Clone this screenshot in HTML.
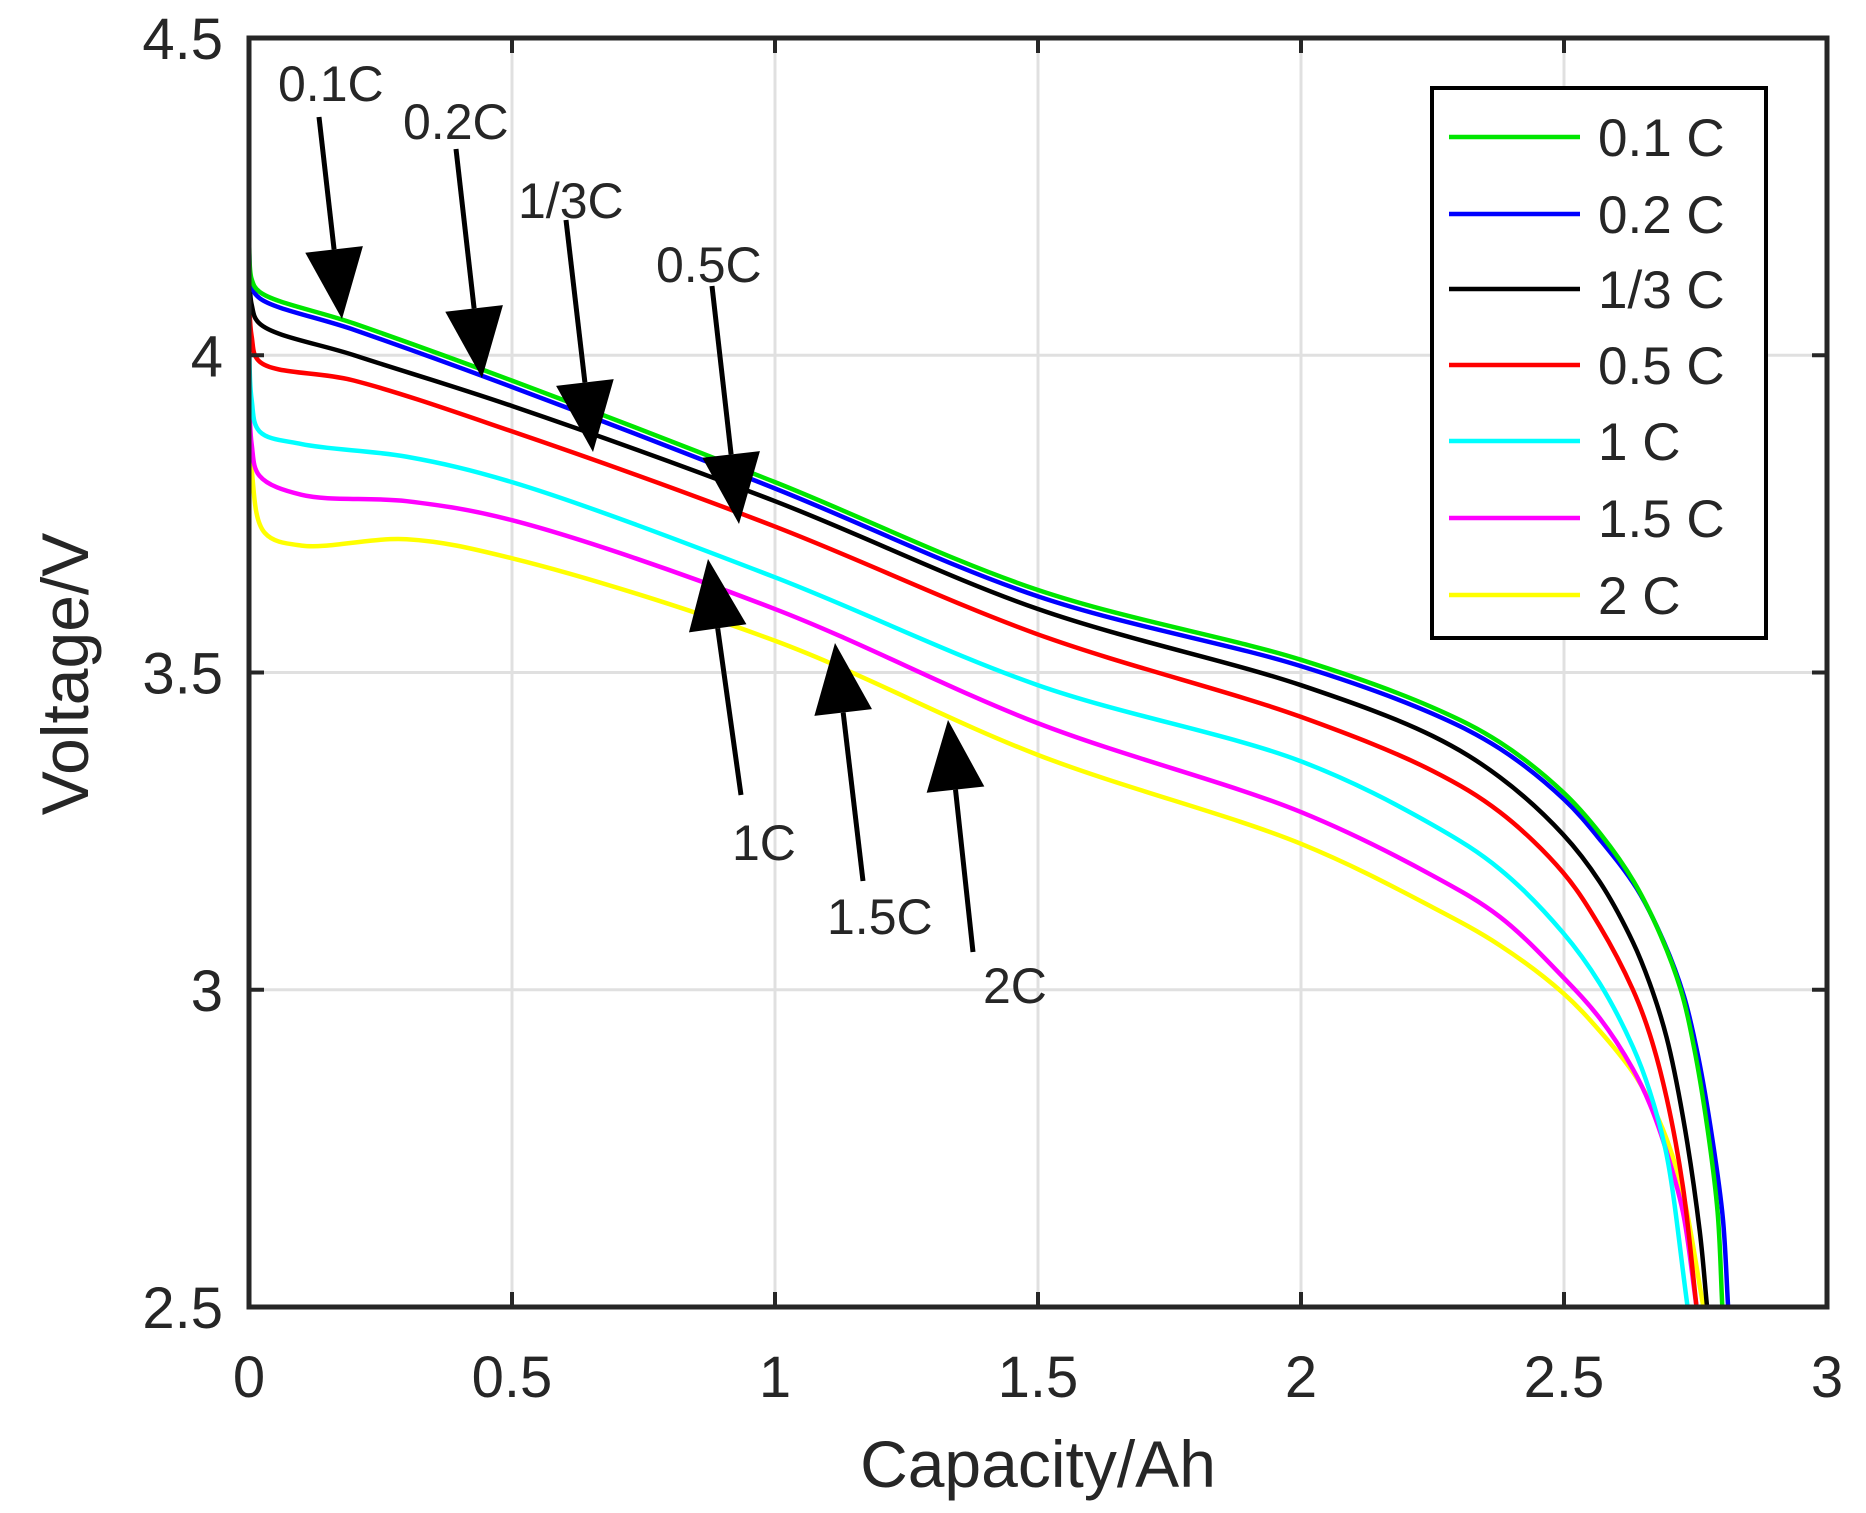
<!DOCTYPE html>
<html><head><meta charset="utf-8"><style>
html,body{margin:0;padding:0;background:#fff;}
svg{display:block;}
text{font-family:"Liberation Sans",Arial,sans-serif;fill:#262626;}
</style></head><body>
<svg id="chart" width="1866" height="1513" viewBox="0 0 1866 1513" xmlns="http://www.w3.org/2000/svg">
<g id="grid"></g>
<g id="series"></g>
<g id="axes"></g>
<g id="annot"></g>
<g id="legend"></g>
</svg>
<script>
const xTicks = [0, 0.5, 1, 1.5, 2, 2.5, 3];
const xTickLabels = ["0", "0.5", "1", "1.5", "2", "2.5", "3"];
const yTicks = [2.5, 3, 3.5, 4, 4.5];
const yTickLabels = ["2.5", "3", "3.5", "4", "4.5"];
const seriesNames = ["0.1 C", "0.2 C", "1/3 C", "0.5 C", "1 C", "1.5 C", "2 C"];
const seriesColors = ["#00e600", "#0000ff", "#000000", "#ff0000", "#00ffff", "#ff00ff", "#ffff00"];
const capX = [
 [0,0.005,0.02,0.2,0.5,1,1.5,2,2.25,2.378,2.5,2.57,2.633,2.684,2.722,2.747,2.773,2.792,2.801],
 [0,0.005,0.02,0.2,0.5,1,1.5,2,2.25,2.378,2.5,2.57,2.638,2.69,2.728,2.755,2.782,2.802,2.812],
 [0,0.005,0.02,0.2,0.5,1,1.5,2,2.25,2.378,2.498,2.568,2.631,2.663,2.695,2.726,2.758,2.772],
 [0,0.005,0.02,0.2,0.5,1,1.5,2,2.25,2.378,2.498,2.568,2.631,2.663,2.695,2.726,2.752],
 [0,0.005,0.02,0.1,0.3,0.5,1,1.5,2,2.25,2.378,2.498,2.568,2.631,2.663,2.695,2.735],
 [0,0.005,0.02,0.1,0.3,0.5,1,1.5,2,2.25,2.378,2.498,2.568,2.631,2.663,2.695,2.726,2.752],
 [0,0.005,0.03,0.1,0.3,0.5,1,1.5,2,2.25,2.378,2.498,2.568,2.631,2.663,2.695,2.726,2.765]
];
const voltY = [
 [4.18,4.12,4.1,4.05,3.96,3.80,3.63,3.52,3.445,3.39,3.31,3.245,3.17,3.085,3.0,2.91,2.78,2.65,2.5],
 [4.17,4.11,4.09,4.04,3.95,3.79,3.62,3.51,3.435,3.38,3.30,3.235,3.16,3.075,2.99,2.895,2.765,2.64,2.5],
 [4.14,4.08,4.05,4.0,3.92,3.77,3.60,3.48,3.40,3.335,3.245,3.17,3.075,3.01,2.925,2.80,2.62,2.5],
 [4.16,4.03,3.99,3.96,3.88,3.73,3.56,3.43,3.345,3.28,3.185,3.10,3.0,2.93,2.83,2.69,2.5],
 [4.08,3.93,3.88,3.86,3.84,3.80,3.65,3.48,3.36,3.26,3.19,3.09,3.01,2.91,2.84,2.74,2.5],
 [4.0,3.86,3.81,3.78,3.77,3.74,3.60,3.42,3.28,3.18,3.115,3.02,2.955,2.875,2.82,2.745,2.65,2.5],
 [3.95,3.82,3.72,3.70,3.71,3.68,3.55,3.37,3.23,3.13,3.07,2.995,2.935,2.87,2.825,2.765,2.68,2.5]
];
const annLabels = ["0.1C","0.2C","1/3C","0.5C","1C","1.5C","2C"];

const L=249,R=1827,T=38,B=1307;
const sx=v=>L+(v-0)/(3-0)*(R-L);
const sy=v=>B-(v-2.5)/(4.5-2.5)*(B-T);
const NS="http://www.w3.org/2000/svg";
function mk(tag,attrs,parent){const e=document.createElementNS(NS,tag);for(const k in attrs)e.setAttribute(k,attrs[k]);parent.appendChild(e);return e;}
const grid=document.getElementById('grid'),axes=document.getElementById('axes'),ser=document.getElementById('series'),ann=document.getElementById('annot'),leg=document.getElementById('legend');

xTicks.forEach((t,i)=>{
 const x=sx(t);
 if(i>0&&i<xTicks.length-1){const g=mk('line',{x1:x,y1:T,x2:x,y2:B,stroke:'#e0e0e0','stroke-width':3},grid);
 
 }
 const tk=mk('line',{x1:x,y1:B,x2:x,y2:B-15,stroke:'#262626','stroke-width':4},axes);
 
 
 const tt=mk('line',{x1:x,y1:T,x2:x,y2:T+15,stroke:'#262626','stroke-width':4},axes);
 
 
 const lb=mk('text',{x:x,y:B+90,'font-size':58,'text-anchor':'middle'},axes);lb.textContent=xTickLabels[i];
 
 
});
yTicks.forEach((t,i)=>{
 const y=sy(t);
 if(i>0&&i<yTicks.length-1){const g=mk('line',{x1:L,y1:y,x2:R,y2:y,stroke:'#e0e0e0','stroke-width':3},grid);
 
 }
 const tk=mk('line',{x1:L,y1:y,x2:L+15,y2:y,stroke:'#262626','stroke-width':4},axes);
 
 
 const tr=mk('line',{x1:R,y1:y,x2:R-15,y2:y,stroke:'#262626','stroke-width':4},axes);
 
 
 const lb=mk('text',{x:L-26,y:y+21,'font-size':58,'text-anchor':'end'},axes);lb.textContent=yTickLabels[i];
 
 
});
const frame=mk('rect',{x:L,y:T,width:R-L,height:B-T,fill:'none',stroke:'#262626','stroke-width':5},axes);


const xt=mk('text',{x:(L+R)/2,y:1487,'font-size':66,'text-anchor':'middle'},axes);xt.textContent='Capacity/Ah';


const yt=mk('text',{x:0,y:0,'font-size':66,'text-anchor':'middle',transform:'translate(88,674) rotate(-90)'},axes);yt.textContent='Voltage/V';



function crPath(P){
 const n=P.length;
 const ext=[[2*P[0][0]-P[1][0],2*P[0][1]-P[1][1]],...P,[2*P[n-1][0]-P[n-2][0],2*P[n-1][1]-P[n-2][1]]];
 const dist=(a,b)=>Math.max(1e-6,Math.pow(Math.hypot(b[0]-a[0],b[1]-a[1]),0.5));
 let s='M'+P[0][0].toFixed(2)+','+P[0][1].toFixed(2);
 for(let i=1;i<ext.length-2;i++){
  const p0=ext[i-1],p1=ext[i],p2=ext[i+1],p3=ext[i+2];
  const d1=dist(p0,p1),d2=dist(p1,p2),d3=dist(p2,p3);
  const c1=[0,1].map(k=>(d1*d1*p2[k]-d2*d2*p0[k]+(2*d1*d1+3*d1*d2+d2*d2)*p1[k])/(3*d1*(d1+d2)));
  const c2=[0,1].map(k=>(d3*d3*p1[k]-d2*d2*p3[k]+(2*d3*d3+3*d3*d2+d2*d2)*p2[k])/(3*d3*(d3+d2)));
  s+=' C'+c1[0].toFixed(2)+','+c1[1].toFixed(2)+' '+c2[0].toFixed(2)+','+c2[1].toFixed(2)+' '+p2[0].toFixed(2)+','+p2[1].toFixed(2);
 }
 return s;
}
for(let s=capX.length-1;s>=0;s--){
 const pts=capX[s].map((x,i)=>[sx(x),sy(voltY[s][i])]);
 const p=mk('path',{d:crPath(pts),fill:'none',stroke:seriesColors[s],'stroke-width':4.5,'stroke-linejoin':'round'},ser);
 
 
}

const annText=[[278,101],[403,139],[518,218],[656,282],[732,860],[827,934],[983,1003]];
const annArrow=[[319,117,342,319],[456,149,482,378],[566,220,593,452],[712,286,739,524],[741,795,708,559],[863,881,835,643],[973,952,948,720]];
annLabels.forEach((l,i)=>{
 const t=mk('text',{x:annText[i][0],y:annText[i][1],'font-size':50},ann);t.textContent=l;
 
 
 const [x1,y1,x2,y2]=annArrow[i];
 const dx=x2-x1,dy=y2-y1,len=Math.hypot(dx,dy),ux=dx/len,uy=dy/len;
 const bx=x2-ux*70,by=y2-uy*70;
 const ln=mk('line',{x1:x1,y1:y1,x2:bx,y2:by,stroke:'#000','stroke-width':5},ann);
 
 
 const hd=mk('polygon',{points:`${x2},${y2} ${bx-uy*29},${by+ux*29} ${bx+uy*29},${by-ux*29}`,fill:'#000'},ann);
 
 
});

const box=mk('rect',{x:1432,y:88,width:334,height:550,fill:'#fff',stroke:'#000','stroke-width':4},leg);


const legY=[137,214,289,365,441,518,595];
seriesNames.forEach((n,i)=>{
 const ln=mk('line',{x1:1449,y1:legY[i],x2:1580,y2:legY[i],stroke:seriesColors[i],'stroke-width':4.5},leg);
 
 
 const t=mk('text',{x:1598,y:legY[i]+19,'font-size':53},leg);t.textContent=n;
 
 
});
</script>
</body></html>
